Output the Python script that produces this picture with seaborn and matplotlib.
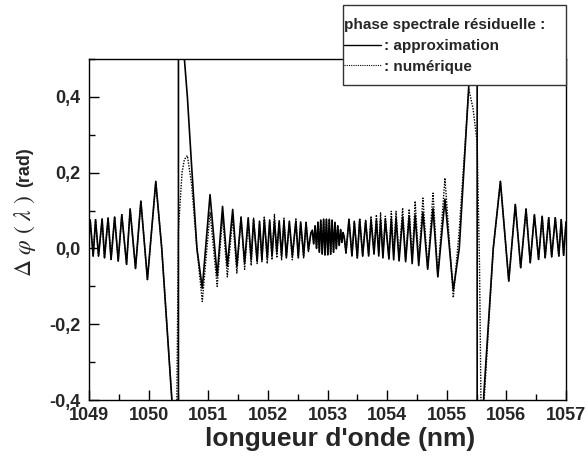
import matplotlib
matplotlib.use("Agg")
import matplotlib.pyplot as plt
from matplotlib.lines import Line2D
from matplotlib.patches import Rectangle
from matplotlib.ticker import MultipleLocator, FuncFormatter
import seaborn as sns
import pandas as pd

# extrema / key points (nm, rad)
wavelength = [
    1049.00, 1049.02, 1049.07, 1049.11, 1049.16, 1049.22, 1049.26, 1049.32,
    1049.37, 1049.43, 1049.49, 1049.55, 1049.63, 1049.69, 1049.78, 1049.87,
    1049.98, 1050.12, 1050.22, 1050.39, 1050.45, 1050.47, 1050.50, 1050.50,
    1050.56, 1050.60, 1050.65, 1050.72, 1050.81, 1050.90, 1051.03, 1051.15,
    1051.24, 1051.32, 1051.41, 1051.48, 1051.55, 1051.61, 1051.67, 1051.72,
    1051.76, 1051.82, 1051.86, 1051.90, 1051.94, 1051.99, 1052.03, 1052.07,
    1052.11, 1052.15, 1052.19, 1052.23, 1052.27, 1052.31, 1052.36, 1052.41,
    1052.47, 1052.51, 1052.55, 1052.60, 1052.64, 1052.68, 1052.72,
    1052.745, 1052.768, 1052.792, 1052.816, 1052.840, 1052.863, 1052.887,
    1052.911, 1052.935, 1052.958, 1052.982, 1053.006, 1053.030, 1053.053,
    1053.077, 1053.101, 1053.125, 1053.148, 1053.172, 1053.196, 1053.220,
    1053.241, 1053.262, 1053.280,
    1053.31, 1053.36, 1053.41, 1053.45, 1053.50, 1053.54, 1053.59, 1053.64,
    1053.69, 1053.73, 1053.78, 1053.82, 1053.86, 1053.89, 1053.93, 1053.97,
    1054.03, 1054.07, 1054.11, 1054.15, 1054.20, 1054.26, 1054.31, 1054.37,
    1054.42, 1054.47, 1054.53, 1054.60, 1054.68, 1054.77, 1054.85, 1054.97,
    1055.11, 1055.21, 1055.37, 1055.44, 1055.51, 1055.51, 1055.55, 1055.58,
    1055.62, 1055.78, 1055.90, 1056.04, 1056.15, 1056.24, 1056.33, 1056.40,
    1056.47, 1056.54, 1056.60, 1056.65, 1056.71, 1056.76, 1056.82, 1056.88,
    1056.92, 1056.96, 1057.00,
]

phi_approx = [
    0.030, 0.075, -0.020, 0.076, -0.020, 0.078, -0.025, 0.080,
    -0.029, 0.083, -0.033, 0.089, -0.042, 0.104, -0.053, 0.125,
    -0.082, 0.177, 0.000, -0.400, -0.750, -1.000, -1.500, 1.500,
    0.800, 0.500, 0.400, 0.220, 0.000, -0.105, 0.142, -0.073,
    0.111, -0.047, 0.103, -0.047, 0.081, -0.038, 0.081, -0.029,
    0.076, -0.033, 0.072, -0.030, 0.076, -0.025, 0.075, -0.020,
    0.073, -0.010, 0.073, -0.020, 0.072, -0.025, 0.072, -0.020,
    0.072, -0.025, 0.070, -0.020, 0.068, -0.005, 0.040,
    0.048, 0.012, 0.060, 0.000, 0.069, -0.010, 0.075,
    -0.015, 0.077, -0.017, 0.077, -0.017, 0.077, -0.015,
    0.075, -0.010, 0.069, -0.001, 0.060, 0.008, 0.050,
    0.016, 0.042, 0.030,
    -0.010, 0.075, -0.020, 0.070, -0.025, 0.076, -0.020, 0.072,
    -0.020, 0.076, -0.015, 0.075, -0.020, 0.076, -0.025, 0.076,
    -0.028, 0.078, -0.030, 0.080, -0.033, 0.083, -0.035, 0.085,
    -0.040, 0.088, -0.045, 0.095, -0.055, 0.105, -0.075, 0.130,
    -0.110, 0.000, 0.430, 0.800, 1.500, -1.500, -1.000, -0.700,
    -0.390, 0.000, 0.177, -0.086, 0.116, -0.051, 0.104, -0.038,
    0.089, -0.029, 0.085, -0.025, 0.081, -0.022, 0.081, -0.020,
    0.076, -0.018, 0.070,
]

phi_numeric = [
    0.030, 0.075, -0.020, 0.076, -0.020, 0.078, -0.025, 0.080,
    -0.029, 0.083, -0.033, 0.089, -0.042, 0.104, -0.053, 0.125,
    -0.082, 0.175, 0.000, -0.400, -0.600, -0.450, 0.050, 0.050,
    0.200, 0.235, 0.245, 0.170, 0.000, -0.140, 0.095, -0.100,
    0.085, -0.075, 0.080, -0.065, 0.085, -0.055, 0.070, -0.045,
    0.080, -0.040, 0.065, -0.035, 0.085, -0.040, 0.070, -0.030,
    0.090, -0.025, 0.065, -0.030, 0.080, -0.020, 0.065, -0.030,
    0.078, -0.020, 0.065, -0.025, 0.072, -0.010, 0.040,
    0.048, 0.012, 0.060, 0.000, 0.069, -0.010, 0.075,
    -0.015, 0.077, -0.017, 0.077, -0.017, 0.077, -0.015,
    0.075, -0.010, 0.069, -0.001, 0.060, 0.008, 0.050,
    0.016, 0.042, 0.030,
    -0.015, 0.080, -0.020, 0.072, -0.025, 0.080, -0.020, 0.076,
    -0.016, 0.085, -0.011, 0.089, -0.010, 0.094, -0.016, 0.085,
    -0.025, 0.098, -0.015, 0.098, -0.025, 0.107, -0.029, 0.104,
    -0.029, 0.125, -0.033, 0.133, -0.051, 0.146, -0.073, 0.186,
    -0.130, 0.050, 0.420, 0.370, 0.280, 0.280, -0.050, -0.500,
    -0.420, 0.000, 0.177, -0.086, 0.116, -0.051, 0.104, -0.038,
    0.089, -0.029, 0.085, -0.025, 0.081, -0.022, 0.081, -0.020,
    0.076, -0.018, 0.070,
]

x_ticks = [1049, 1050, 1051, 1052, 1053, 1054, 1055, 1056, 1057]
y_ticks = [-0.4, -0.2, 0.0, 0.2, 0.4]

W, H = 588, 463


def comma(v, pos=None):
    return f"{v:.1f}".replace(".", ",").replace("-0,0", "0,0")


def plot_phase():
    sns.set_style("ticks")
    plt.rcParams["font.family"] = ["Liberation Sans", "DejaVu Sans"]
    plt.rcParams["mathtext.fontset"] = "stix"

    df = pd.DataFrame({
        "lam": wavelength,
        "approx": phi_approx,
        "num": phi_numeric,
    })

    fig = plt.figure(figsize=(W / 100, H / 100), dpi=100)
    ax = fig.add_axes([89 / W, 1 - 400 / H, 477 / W, 341 / H])

    sns.lineplot(data=df, x="lam", y="num", estimator=None, sort=False,
                 color="black", lw=1.0, linestyle=(0, (1, 1)), ax=ax)
    sns.lineplot(data=df, x="lam", y="approx", estimator=None, sort=False,
                 color="black", lw=1.2, ax=ax)

    ax.set_xlim(1049, 1057)
    ax.set_ylim(-0.4, 0.5)
    ax.set_xticks(x_ticks)
    ax.set_yticks(y_ticks)
    ax.xaxis.set_minor_locator(MultipleLocator(0.5))
    ax.yaxis.set_minor_locator(MultipleLocator(0.1))
    ax.yaxis.set_major_formatter(FuncFormatter(comma))
    ax.tick_params(which="both", direction="in", top=False, right=False,
                   width=1.0, color="black")
    ax.tick_params(which="major", length=7)
    ax.tick_params(which="minor", length=4)
    ax.tick_params(axis="x", which="major", pad=5)
    ax.tick_params(axis="y", which="major", pad=6)
    for lab in ax.get_xticklabels():
        lab.set_fontsize(13)
        lab.set_fontweight("bold")
        lab.set_family(["Liberation Sans Narrow", "Liberation Sans"])
    for lab in ax.get_yticklabels():
        lab.set_fontsize(13)
        lab.set_fontweight("bold")
    for sp in ax.spines.values():
        sp.set_linewidth(1.0)
        sp.set_color("black")

    ax.set_xlabel("longueur d'onde (nm)", fontsize=19, fontweight="bold")
    ax.xaxis.set_label_coords(0.526, -0.08)
    ax.set_ylabel("")
    ax.text(-0.134, 0.683, "(rad)", transform=ax.transAxes, rotation=90,
            ha="center", va="center", fontsize=13, fontweight="bold")
    ax.text(-0.134, 0.482, r"$\Delta\ \varphi\ (\ \lambda\ )$",
            transform=ax.transAxes, rotation=90, ha="center", va="center",
            fontsize=17)

    # legend box drawn by hand so the padding can match the original
    box = Rectangle((343 / W, 1 - 85 / H), 223 / W, 80 / H,
                    transform=fig.transFigure, facecolor="white",
                    edgecolor="#333333", lw=1.0, zorder=5)
    fig.patches.append(box)
    handles = [
        Line2D([], [], color="black", lw=1.0),
        Line2D([], [], color="black", lw=0.8, linestyle=(0, (1, 1))),
    ]
    leg = fig.legend(handles, [": approximation", ": numérique"],
                     title="phase spectrale résiduelle :",
                     loc="upper left", bbox_to_anchor=(344 / W, 1 - 18 / H),
                     alignment="left", borderaxespad=0, borderpad=0,
                     prop={"weight": "bold", "size": 11},
                     title_fontproperties={"weight": "bold", "size": 11},
                     frameon=False, handlelength=2.4, handletextpad=0.2,
                     labelspacing=0.45)
    leg.set_zorder(6)

    fig.savefig("out.png", dpi=100)
    plt.close(fig)


def main():
    plot_phase()


if __name__ == "__main__":
    main()
